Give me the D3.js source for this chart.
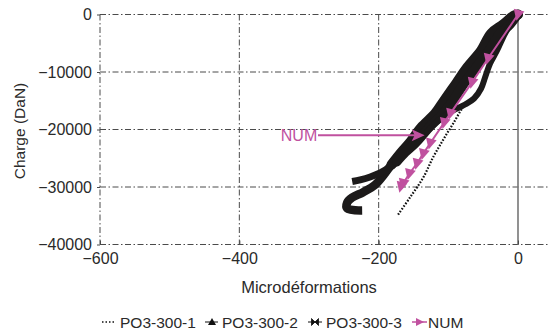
<!DOCTYPE html>
<html><head><meta charset="utf-8">
<script src="https://cdn.jsdelivr.net/npm/d3@7"></script>
<style>
html,body{margin:0;padding:0;background:#fff;}
svg{display:block;font-family:"Liberation Sans",Arial,Helvetica,sans-serif;}
</style></head>
<body>
<svg id="chart" width="549" height="334"></svg>
<script>
// ---- data ----
const xTicks = [-600, -400, -200, 0];
const yTicks = [0, -10000, -20000, -30000, -40000];
const seriesNames = ["PO3-300-1", "PO3-300-2", "PO3-300-3", "NUM"];

const s1Strain = [0, -19, -40, -53, -63, -76, -93, -108, -122, -136, -155, -173];
const s1Load   = [0, -3300, -8500, -12900, -14600, -15700, -18950, -21910, -24870, -28350, -31820, -34960];

// PO3-300-2: from the end of the upper-left arm, up the band to 0, back down the right branch
const s2Strain = [-238.0, -226.5, -212.2, -197.8, -183.5, -174.0, -162.0, -147.7, -127.6, -107.5, -93.2, -77.4, -60.2, -41.6, -25.8, -11.5, -1.4, 0,
                  -8.6, -18.6, -30.1, -40.1, -47.3, -53.0, -63.1, -76.0, -90.3, -104.7, -117.6, -130.5];
const s2Load   = [-29040, -28750, -28250, -27550, -26500, -25600, -24000, -22430, -19650, -17220, -14960, -12000, -9220, -6260, -3300, -1740, -170, 0,
                  -1390, -3300, -6260, -8520, -10960, -12870, -14610, -15650, -16520, -17560, -18780, -20350];

// PO3-300-3: from 0 down the band to the hook
const s3Strain = [0, -5.7, -21.5, -38.7, -53.0, -73.1, -88.9, -106.1, -119.0, -139.1, -156.3, -167.7, -181.5, -192.0, -205.0, -222.2, -238.0, -245.2, -245.2, -223.7];
const s3Load   = [0, -170, -1740, -3300, -6260, -9220, -12000, -14960, -17220, -19650, -22430, -24000, -26100, -27800, -29600, -30900, -31830, -32700, -33740, -34090];

const numStrain = [0, -43, -66, -97, -106, -126, -136, -145, -156, -165, -168];
const numLoad   = [0, -7650, -11800, -17200, -18800, -22400, -24200, -25900, -27700, -29400, -29900];

const annotStrain = [-290, -134];   // "NUM" pointer arrow
const annotLoad = -21000;

// ---- layout ----
const svg = d3.select("#chart");
const x = d3.scaleLinear().domain([-600, 44.5]).range([100, 549]);
const y = d3.scaleLinear().domain([-40000, 0]).range([244.5, 14.5]);
const MAG = "#c0519f";
const GRID = "#4a4a4a";
const TXT = "#2a2a2a";
const INK = "#1c1a1a";
const dash = "6,2.5,1.5,2.5";

svg.append("g").selectAll("line").data(yTicks).join("line")
  .attr("x1", x(-600)).attr("x2", 549)
  .attr("y1", d => y(d)).attr("y2", d => y(d))
  .attr("stroke", GRID).attr("stroke-width", 1).attr("stroke-dasharray", dash);
svg.append("g").selectAll("line").data(xTicks.filter(d => d !== 0)).join("line")
  .attr("x1", d => x(d)).attr("x2", d => x(d))
  .attr("y1", y(0)).attr("y2", y(-40000))
  .attr("stroke", GRID).attr("stroke-width", 1).attr("stroke-dasharray", dash);
svg.append("line").attr("x1", x(0)).attr("x2", x(0)).attr("y1", y(0)).attr("y2", y(-40000))
  .attr("stroke", "#777").attr("stroke-width", 1.6);

const yAxis = svg.append("g").attr("transform", `translate(${x(-600)},0)`)
  .call(d3.axisLeft(y).tickValues(yTicks).tickSize(3).tickPadding(5).tickFormat(d3.format("d")));
const xAxis = svg.append("g").attr("transform", `translate(0,${y(-40000)})`)
  .call(d3.axisBottom(x).tickValues(xTicks).tickSize(0).tickPadding(8).tickFormat(d3.format("d")));
[yAxis, xAxis].forEach(a => {
  a.select(".domain").remove();
  a.selectAll("text").attr("font-size", 16).attr("fill", TXT)
    .attr("font-family", '"Liberation Sans",Arial,sans-serif');
  a.selectAll("line").attr("stroke", GRID);
});
xAxis.selectAll(".tick").append("line").attr("y1", 0).attr("y2", -4).attr("stroke", GRID);

svg.append("text").attr("x", 309).attr("y", 293).attr("text-anchor", "middle")
  .attr("font-size", 16.5).attr("fill", TXT).text("Microdéformations");
svg.append("text").attr("transform", "translate(25,131) rotate(-90)").attr("text-anchor", "middle")
  .attr("font-size", 15.5).attr("fill", TXT).text("Charge (DaN)");

// ---- series ----
const line = d3.line().x(d => x(d[0])).y(d => y(d[1])).curve(d3.curveCatmullRom.alpha(0.5));
const zip = (a, b) => a.map((v, i) => [v, b[i]]);
const seg = (pts, w, cap) => svg.append("path").datum(pts).attr("d", line)
  .attr("fill", "none").attr("stroke", INK).attr("stroke-width", w)
  .attr("stroke-linejoin", "round").attr("stroke-linecap", cap);

svg.append("path").datum(zip(s1Strain, s1Load)).attr("d", line)
  .attr("fill", "none").attr("stroke", "#111").attr("stroke-width", 2.2)
  .attr("stroke-dasharray", "1.6,1.6");

const s3 = zip(s3Strain, s3Load);
seg(s3.slice(0, 13), 10, "round");
seg(s3.slice(11), 8.5, "butt");

const s2 = zip(s2Strain, s2Load);
seg(s2.slice(0, 7), 7, "butt");
seg(s2.slice(5, 18), 9.5, "round");
seg(s2.slice(17), 6, "round");

// NUM
const numPts = zip(numStrain, numLoad);
svg.append("path").datum(numPts).attr("d", d3.line().x(d => x(d[0])).y(d => y(d[1])))
  .attr("fill", "none").attr("stroke", MAG).attr("stroke-width", 2);
const ang = Math.atan2(y(numLoad[10]) - y(0), x(numStrain[10]) - x(0)) * 180 / Math.PI;
svg.append("g").selectAll("path").data(numPts).join("path")
  .attr("d", "M6.5,0L-4.5,-5.5L-4.5,5.5Z")
  .attr("transform", d => `translate(${x(d[0])},${y(d[1])}) rotate(${ang - 20})`)
  .attr("fill", MAG);

// annotation arrow
svg.append("text").attr("x", 299).attr("y", y(annotLoad) + 5.5).attr("text-anchor", "middle")
  .attr("font-size", 16).attr("fill", MAG).text("NUM");
svg.append("line").attr("x1", 318).attr("x2", x(annotStrain[1]) - 8)
  .attr("y1", y(annotLoad)).attr("y2", y(annotLoad))
  .attr("stroke", MAG).attr("stroke-width", 2);
svg.append("path")
  .attr("d", `M${x(annotStrain[1])},${y(annotLoad)} l-13,-6 l3,6 l-3,6 Z`)
  .attr("fill", MAG);

// ---- legend ----
const leg = svg.append("g").attr("font-size", 15.5).attr("fill", TXT);
const ly = 322;
const items = [
  {x: 102, tx: 120, name: seriesNames[0]},
  {x: 205, tx: 222, name: seriesNames[1]},
  {x: 308, tx: 326, name: seriesNames[2]},
  {x: 412, tx: 428, name: seriesNames[3]}
];
items.forEach((it, i) => {
  const g = leg.append("g");
  if (i === 0) {
    g.append("line").attr("x1", it.x).attr("x2", it.x + 13).attr("y1", ly).attr("y2", ly)
      .attr("stroke", "#111").attr("stroke-width", 1.3).attr("stroke-dasharray", "1.5,2");
  } else if (i === 1) {
    g.append("line").attr("x1", it.x).attr("x2", it.x + 13).attr("y1", ly).attr("y2", ly)
      .attr("stroke", "#111").attr("stroke-width", 1);
    g.append("path").attr("d", `M${it.x + 7},${ly - 4}l4,7h-8Z`).attr("fill", "#111");
  } else if (i === 2) {
    g.append("line").attr("x1", it.x).attr("x2", it.x + 14).attr("y1", ly).attr("y2", ly)
      .attr("stroke", "#111").attr("stroke-width", 1);
    g.append("path").attr("d", `M${it.x + 3.5},${ly - 3.5}L${it.x + 7},${ly}L${it.x + 3.5},${ly + 3.5}Z M${it.x + 10.5},${ly - 3.5}L${it.x + 7},${ly}L${it.x + 10.5},${ly + 3.5}Z`)
      .attr("fill", "#111").attr("stroke", "#111").attr("stroke-width", 0.8);
  } else {
    g.append("line").attr("x1", it.x).attr("x2", it.x + 15).attr("y1", ly).attr("y2", ly)
      .attr("stroke", MAG).attr("stroke-width", 1.5);
    g.append("path").attr("d", `M${it.x + 12},${ly}L${it.x + 4},${ly - 4}L${it.x + 4},${ly + 4}Z`).attr("fill", MAG);
  }
  g.append("text").attr("x", it.tx).attr("y", ly + 5.5).text(it.name);
});
</script>
</body></html>
